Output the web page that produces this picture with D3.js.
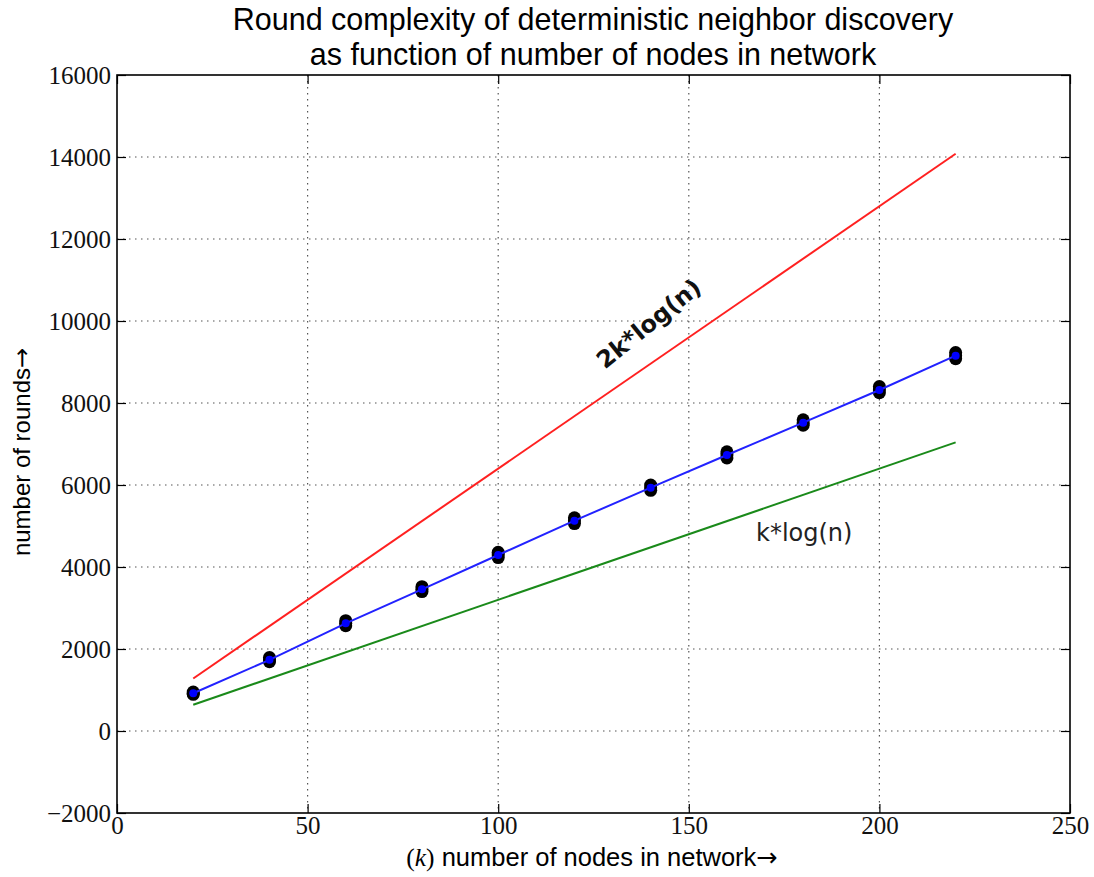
<!DOCTYPE html>
<html>
<head>
<meta charset="utf-8">
<script src="https://cdn.jsdelivr.net/npm/d3@7"></script>
<style>
  body { margin: 0; background: #fff; }
  svg { display: block; }
</style>
</head>
<body>
<div id="chart"></div>
<script>
const width = 1094;
const height = 877;
const margin = {top: 75, right: 24, bottom: 64, left: 117};

// data
const kValues = [20, 40, 60, 80, 100, 120, 140, 160, 180, 200, 220];
const meanRounds = [920, 1735, 2626, 3456, 4293, 5130, 5935, 6732, 7520, 8317, 9154];
const trialLow = [895, 1690, 2570, 3400, 4230, 5060, 5870, 6660, 7460, 8250, 9080];
const trialHigh = [950, 1790, 2690, 3520, 4360, 5200, 6000, 6810, 7590, 8400, 9230];
const boundK = [20, 220];
const lowerBound = [640, 7040];    // k*log(n)
const upperBound = [1280, 14080];  // 2k*log(n)
const xTicks = [0, 50, 100, 150, 200, 250];
const yTicks = [-2000, 0, 2000, 4000, 6000, 8000, 10000, 12000, 14000, 16000];

const svg = d3.select("#chart")
  .append("svg")
  .attr("width", width)
  .attr("height", height);

const x = d3.scaleLinear().domain([0, 250]).range([margin.left, width - margin.right]);
const y = d3.scaleLinear().domain([-2000, 16000]).range([height - margin.bottom, margin.top]);

const fmt = d => d < 0 ? "\u2212" + Math.abs(d) : String(d);

// grid
svg.append("g")
  .selectAll("line")
  .data(xTicks.slice(1, -1))
  .enter()
  .append("line")
  .attr("x1", d => x(d)).attr("x2", d => x(d))
  .attr("y1", margin.top).attr("y2", height - margin.bottom)
  .attr("stroke", "#555")
  .attr("stroke-width", 1.2)
  .attr("stroke-dasharray", "1.5,4.5");

svg.append("g")
  .selectAll("line")
  .data(yTicks.slice(1, -1))
  .enter()
  .append("line")
  .attr("y1", d => y(d)).attr("y2", d => y(d))
  .attr("x1", margin.left).attr("x2", width - margin.right)
  .attr("stroke", "#555")
  .attr("stroke-width", 1.2)
  .attr("stroke-dasharray", "1.5,4.5");

// axes with inward ticks
const tickFont = g => g.selectAll("text")
  .style("font-family", "'Liberation Serif', 'DejaVu Serif', serif")
  .style("font-size", "25px")
  .attr("fill", "#111");

svg.append("g")
  .attr("transform", `translate(0,${height - margin.bottom})`)
  .call(d3.axisBottom(x).tickValues(xTicks).tickFormat(fmt).tickSizeInner(-9).tickSizeOuter(0).tickPadding(3))
  .call(g => g.select(".domain").remove())
  .call(g => g.selectAll("line").attr("stroke", "#000").attr("stroke-width", 1.2))
  .call(tickFont);

svg.append("g")
  .attr("transform", `translate(0,${margin.top})`)
  .call(d3.axisTop(x).tickValues(xTicks).tickFormat("").tickSizeInner(-9).tickSizeOuter(0))
  .call(g => g.select(".domain").remove())
  .call(g => g.selectAll("line").attr("stroke", "#000").attr("stroke-width", 1.2));

svg.append("g")
  .attr("transform", `translate(${margin.left},0)`)
  .call(d3.axisLeft(y).tickValues(yTicks).tickFormat(fmt).tickSizeInner(-9).tickSizeOuter(0).tickPadding(6))
  .call(g => g.select(".domain").remove())
  .call(g => g.selectAll("line").attr("stroke", "#000").attr("stroke-width", 1.2))
  .call(tickFont);

svg.append("g")
  .attr("transform", `translate(${width - margin.right},0)`)
  .call(d3.axisRight(y).tickValues(yTicks).tickFormat("").tickSizeInner(-9).tickSizeOuter(0))
  .call(g => g.select(".domain").remove())
  .call(g => g.selectAll("line").attr("stroke", "#000").attr("stroke-width", 1.2));

// frame
svg.append("rect")
  .attr("x", margin.left).attr("y", margin.top)
  .attr("width", width - margin.left - margin.right)
  .attr("height", height - margin.top - margin.bottom)
  .attr("fill", "none")
  .attr("stroke", "#000")
  .attr("stroke-width", 1.6);

// bound lines
const line = d3.line().x(d => x(d[0])).y(d => y(d[1]));

svg.append("path")
  .datum(boundK.map((k, i) => [k, upperBound[i]]))
  .attr("d", line)
  .attr("fill", "none")
  .attr("stroke", "#ff2020")
  .attr("stroke-width", 2);

svg.append("path")
  .datum(boundK.map((k, i) => [k, lowerBound[i]]))
  .attr("d", line)
  .attr("fill", "none")
  .attr("stroke", "#1a8a1a")
  .attr("stroke-width", 2);

// trial points
const trials = [];
kValues.forEach((k, i) => {
  trials.push([k, trialLow[i]], [k, meanRounds[i]], [k, trialHigh[i]]);
});

svg.append("g")
  .selectAll("circle")
  .data(trials)
  .enter()
  .append("circle")
  .attr("cx", d => x(d[0]))
  .attr("cy", d => y(d[1]))
  .attr("r", 6.5)
  .attr("fill", "#000");

// mean line
svg.append("path")
  .datum(kValues.map((k, i) => [k, meanRounds[i]]))
  .attr("d", line)
  .attr("fill", "none")
  .attr("stroke", "#2222ff")
  .attr("stroke-width", 2);

svg.append("g")
  .selectAll("circle")
  .data(kValues.map((k, i) => [k, meanRounds[i]]))
  .enter()
  .append("circle")
  .attr("cx", d => x(d[0]))
  .attr("cy", d => y(d[1]))
  .attr("r", 4)
  .attr("fill", "#0000ff");

// line labels
svg.append("text")
  .attr("transform", `translate(654,330) rotate(-39)`)
  .attr("text-anchor", "middle")
  .style("font-family", "'DejaVu Sans', sans-serif")
  .style("font-size", "24px")
  .style("font-weight", "bold")
  .attr("fill", "#111")
  .text("2k*log(n)");

svg.append("text")
  .attr("x", 756)
  .attr("y", 541)
  .style("font-family", "'DejaVu Sans', sans-serif")
  .style("font-size", "24px")
  .attr("fill", "#222")
  .text("k*log(n)");

// title
const title = svg.append("text")
  .attr("text-anchor", "middle")
  .style("font-family", "'Liberation Sans', Arial, sans-serif")
  .style("font-size", "30.5px")
  .attr("fill", "#000");
title.append("tspan").attr("x", 593).attr("y", 30).text("Round complexity of deterministic neighbor discovery");
title.append("tspan").attr("x", 593).attr("y", 65).text("as function of number of nodes in network");

// axis labels
const xLabel = svg.append("text")
  .attr("x", 592)
  .attr("y", 866)
  .attr("text-anchor", "middle")
  .style("font-family", "'Liberation Sans', Arial, sans-serif")
  .style("font-size", "25.5px")
  .attr("fill", "#000");
xLabel.append("tspan").style("font-family", "'Liberation Serif', serif").text("(");
xLabel.append("tspan").style("font-family", "'Liberation Serif', serif").style("font-style", "italic").text("k");
xLabel.append("tspan").style("font-family", "'Liberation Serif', serif").text(")");
xLabel.append("tspan").text(" number of nodes in network");
xLabel.append("tspan").style("font-family", "'DejaVu Sans', sans-serif").text("\u2192");

svg.append("text")
  .attr("transform", `translate(30,452) rotate(-90)`)
  .attr("text-anchor", "middle")
  .style("font-family", "'Liberation Sans', Arial, sans-serif")
  .style("font-size", "24px")
  .attr("fill", "#000")
  .selectAll("tspan")
  .data(["number of rounds", "\u2192"])
  .enter()
  .append("tspan")
  .style("font-family", (d, i) => i ? "'DejaVu Sans', sans-serif" : null)
  .text(d => d);
</script>
</body>
</html>
